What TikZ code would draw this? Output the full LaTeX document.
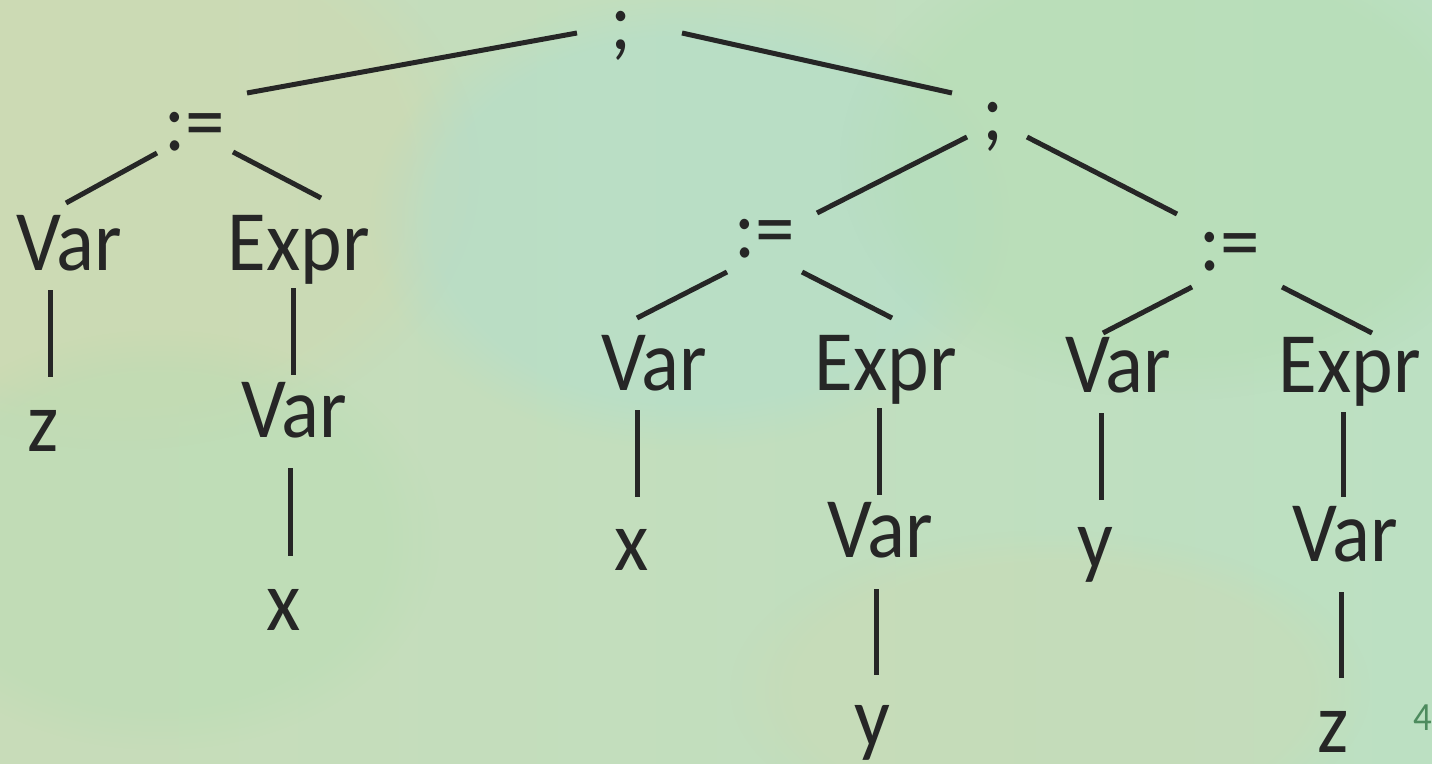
\documentclass[tikz,border=0pt]{standalone}
\usepackage{fontspec}
\setmainfont{Carlito}[FakeStretch=0.92]
\usetikzlibrary{fadings}
\definecolor{ink}{HTML}{262626}
\definecolor{pagegreen}{HTML}{4D8B5E}
\definecolor{paperA}{HTML}{C8DCB9}
\definecolor{paperB}{HTML}{BCE0C2}
\definecolor{sand}{HTML}{D2D8AE}
\definecolor{mint}{HTML}{B0DECF}
\definecolor{leaf}{HTML}{B4DDB2}
\tikzset{
  lbl/.style={anchor=base, inner sep=0pt, text=ink, font=\fontsize{86}{96}\selectfont},
  edge/.style={draw=ink, line width=5pt},
  blob/.style={path fading=circle with fuzzy edge 20 percent, fill opacity=0.45},
}
% one tree edge: node, shift from its base, node, shift from its base
\newcommand\treeedge[4]{\draw[edge] ([shift={#2}]#1.base) -- ([shift={#4}]#3.base);}
\begin{document}
\begin{tikzpicture}[x=1pt, y=-1pt]
  % paper background
  \useasboundingbox (0,0) rectangle (1432,763);
  \shade[left color=paperA, right color=paperB] (0,0) rectangle (1432,763);
  \fill[sand, blob] (120,170) ellipse (360 and 280);
  \fill[mint, blob] (690,220) ellipse (320 and 230);
  \fill[leaf, blob] (1180,160) ellipse (340 and 240);
  \fill[sand, blob, fill opacity=0.3] (1050,690) ellipse (320 and 160);
  \fill[leaf, blob, fill opacity=0.35] (160,540) ellipse (280 and 210);

  % statement sequence
  \node[lbl] (r1) at (621,49) {;};
  \node[lbl] (a1) at (195,150) {:=};
  \node[lbl] (s2) at (993,140) {;};
  % first assignment
  \node[lbl] (v1) at (69,270) {Var};
  \node[lbl] (e1) at (299,270) {Expr};
  \node[lbl] (z1) at (43,451) {z};
  \node[lbl] (v2) at (294,437) {Var};
  \node[lbl] (x1) at (284,630) {x};
  % second assignment
  \node[lbl] (a2) at (765,257) {:=};
  \node[lbl] (v3) at (654,390) {Var};
  \node[lbl] (e2) at (886,390) {Expr};
  \node[lbl] (x2) at (632,570) {x};
  \node[lbl] (v5) at (880,557) {Var};
  \node[lbl] (y2) at (872,746) {y};
  % third assignment
  \node[lbl] (a3) at (1230,270) {:=};
  \node[lbl] (v4) at (1118,392) {Var};
  \node[lbl] (e3) at (1350,392) {Expr};
  \node[lbl] (y1) at (1095,568) {y};
  \node[lbl] (v6) at (1345,561) {Var};
  \node[lbl] (z2) at (1333,752) {z};
  % slide number
  \node[anchor=base west, inner sep=0pt, text=pagegreen, font=\fontsize{40}{44}\selectfont] (pg) at (1413,730) {4};

  % edges
  \treeedge{r1}{(-44,-16)}{a1}{(52,-57)}
  \treeedge{r1}{(61,-16)}{s2}{(-41,-47)}
  \treeedge{a1}{(-38,3)}{v1}{(-3,-67)}
  \treeedge{a1}{(38,2)}{e1}{(22,-72)}
  \treeedge{v1}{(-19,20)}{z1}{(7,-74)}
  \treeedge{e1}{(-6,18)}{v2}{(-1,-62)}
  \treeedge{v2}{(-4,31)}{x1}{(6,-74)}
  \treeedge{s2}{(-26,-3)}{a2}{(52,-44)}
  \treeedge{s2}{(34,-3)}{a3}{(-53,-56)}
  \treeedge{a2}{(-38,15)}{v3}{(-17,-72)}
  \treeedge{a2}{(37,15)}{e2}{(6,-72)}
  \treeedge{a3}{(-38,17)}{v4}{(-15,-59)}
  \treeedge{a3}{(52,17)}{e3}{(22,-59)}
  \treeedge{v3}{(-17,20)}{x2}{(5,-73)}
  \treeedge{e2}{(-7,18)}{v5}{(-1,-62)}
  \treeedge{v5}{(-4,32)}{y2}{(4,-71)}
  \treeedge{v4}{(-17,21)}{y1}{(6,-68)}
  \treeedge{e3}{(-7,20)}{v6}{(-2,-64)}
  \treeedge{v6}{(-4,31)}{z2}{(8,-74)}
\end{tikzpicture}
\end{document}
